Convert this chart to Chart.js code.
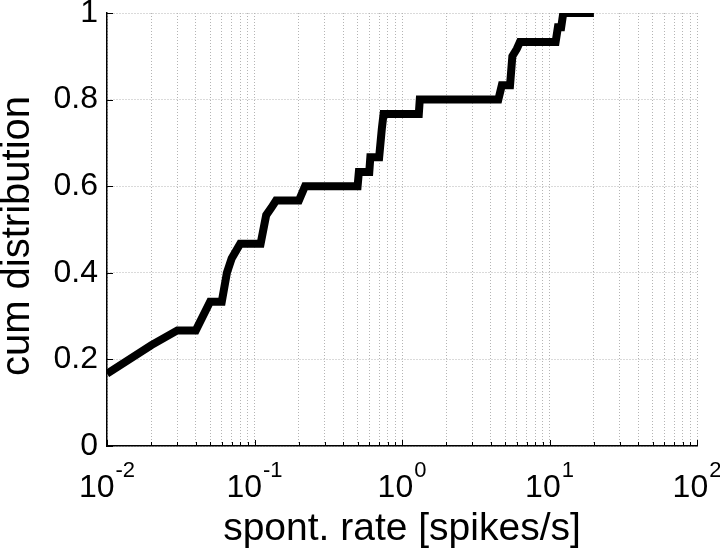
<!DOCTYPE html>
<html>
<head>
<meta charset="utf-8">
<script src="https://cdn.jsdelivr.net/npm/chart.js@4.4.0/dist/chart.umd.min.js"></script>
<style>
  html, body { margin: 0; padding: 0; background: #fff; }
  #wrap { width: 720px; height: 553px; }
</style>
</head>
<body>
<div id="wrap"><canvas id="cdfChart" width="720" height="553"></canvas></div>
<script>
// points along the cumulative curve
const rates   = [0.01, 0.02, 0.03, 0.04, 0.05, 0.06, 0.065, 0.07, 0.08, 0.11, 0.12, 0.13, 0.14, 0.2, 0.22,
                 0.5, 0.51, 0.6, 0.61, 0.7, 0.73, 0.75, 1.3, 1.32, 4.5, 4.75, 5.4, 5.6, 6.0, 6.3,
                 11, 11.4, 12, 12.4, 20];
const cumFrac = [0.167, 0.233, 0.267, 0.267, 0.333, 0.333, 0.4, 0.433, 0.467, 0.467, 0.533, 0.55, 0.567, 0.567, 0.6,
                 0.6, 0.633, 0.633, 0.667, 0.667, 0.733, 0.767, 0.767, 0.8, 0.8, 0.833, 0.833, 0.9, 0.917, 0.933,
                 0.933, 0.967, 0.967, 1.0, 1.0];

const yTicks = [0, 0.2, 0.4, 0.6, 0.8, 1];
const decadeExps = [-2, -1, 0, 1, 2];
const xTitle = 'spont. rate [spikes/s]';
const yTitle = 'cum distribution';

const FONT = '"Liberation Sans", Arial, Helvetica, sans-serif';
Chart.defaults.font.family = FONT;
Chart.defaults.color = '#000';

const gridStyle = {
  color: '#b4b4b4',
  lineWidth: 1,
  drawTicks: false
};
// in v4 the grid dash comes from border.dash, the axis line itself stays solid
const borderStyle = { display: true, color: '#000', width: 1.5, dash: [1, 2], dashOffset: 0 };

// matlab-ish inward ticks, 10^n labels with superscripts, rotated y title
const matlabAxes = {
  id: 'matlabAxes',
  afterDraw(chart) {
    const ctx = chart.ctx;
    const xs = chart.scales.x, ys = chart.scales.y;
    const area = chart.chartArea;
    ctx.save();
    ctx.strokeStyle = '#000';
    ctx.lineWidth = 1;
    ctx.setLineDash([]);
    ctx.beginPath();
    ys.ticks.forEach(t => {
      const y = Math.round(ys.getPixelForValue(t.value)) + 0.5;
      ctx.moveTo(area.left, y);
      ctx.lineTo(area.left + 6, y);
    });
    xs.ticks.forEach(t => {
      const lg = Math.log10(t.value);
      const major = Math.abs(lg - Math.round(lg)) < 1e-9;
      const x = Math.round(xs.getPixelForValue(t.value)) + 0.5;
      ctx.moveTo(x, area.bottom);
      ctx.lineTo(x, area.bottom - (major ? 6 : 4));
    });
    ctx.stroke();

    ctx.fillStyle = '#000';
    ctx.textAlign = 'left';
    ctx.textBaseline = 'alphabetic';
    const baseFont = '32px ' + FONT, supFont = '22px ' + FONT;
    decadeExps.forEach(e => {
      const x = xs.getPixelForValue(Math.pow(10, e));
      ctx.font = baseFont;
      const wb = ctx.measureText('10').width;
      ctx.font = supFont;
      const we = ctx.measureText(String(e)).width;
      const x0 = x - (wb + we + 1) / 2;
      ctx.font = baseFont;
      ctx.fillText('10', x0, area.bottom + 51);
      ctx.font = supFont;
      ctx.fillText(String(e), x0 + wb + 1, area.bottom + 31);
    });

    // y title
    ctx.translate(29, 236);
    ctx.rotate(-Math.PI / 2);
    ctx.textAlign = 'center';
    ctx.font = '40px ' + FONT;
    ctx.fillText(yTitle, 0, 0);
    ctx.restore();
  }
};

const ctx = document.getElementById('cdfChart').getContext('2d');
const cdfChart = new Chart(ctx, {
  type: 'line',
  data: {
    datasets: [{
      label: yTitle,
      data: rates.map((r, i) => ({ x: r, y: cumFrac[i] })),
      borderColor: '#000',
      borderWidth: 8,
      borderJoinStyle: 'miter',
      borderCapStyle: 'butt',
      pointRadius: 0,
      tension: 0,
      fill: false,
      clip: 0
    }]
  },
  options: {
    responsive: false,
    animation: false,
    layout: { padding: { top: 13, right: 23, bottom: 0, left: 0 } },
    plugins: {
      legend: { display: false },
      tooltip: { enabled: false }
    },
    scales: {
      x: {
        type: 'logarithmic',
        min: Math.pow(10, decadeExps[0]),
        max: Math.pow(10, decadeExps[decadeExps.length - 1]),
        grid: gridStyle,
        border: borderStyle,
        ticks: { display: false, autoSkip: false },
        title: {
          display: true,
          text: xTitle,
          font: { size: 39, lineHeight: 1.2 },
          color: '#000',
          padding: 0
        },
        afterBuildTicks(scale) {
          const t = [];
          for (let e = decadeExps[0]; e < decadeExps[decadeExps.length - 1]; e++) {
            for (let m = 1; m < 10; m++) t.push({ value: m * Math.pow(10, e) });
          }
          t.push({ value: Math.pow(10, decadeExps[decadeExps.length - 1]) });
          scale.ticks = t;
        },
        afterFit(scale) {
          scale.height = 107;
          scale.paddingLeft = 0;
          scale.paddingRight = 0;
        }
      },
      y: {
        type: 'linear',
        min: 0,
        max: 1,
        grid: gridStyle,
        border: borderStyle,
        ticks: {
          font: { size: 32 },
          color: '#000',
          padding: 9,
          callback: v => String(+v.toFixed(1))
        },
        afterBuildTicks(scale) {
          scale.ticks = yTicks.map(v => ({ value: v }));
        },
        afterFit(scale) {
          scale.width = 107;
          scale.paddingTop = 0;
          scale.paddingBottom = 0;
        }
      }
    }
  },
  plugins: [matlabAxes]
});
</script>
</body>
</html>
